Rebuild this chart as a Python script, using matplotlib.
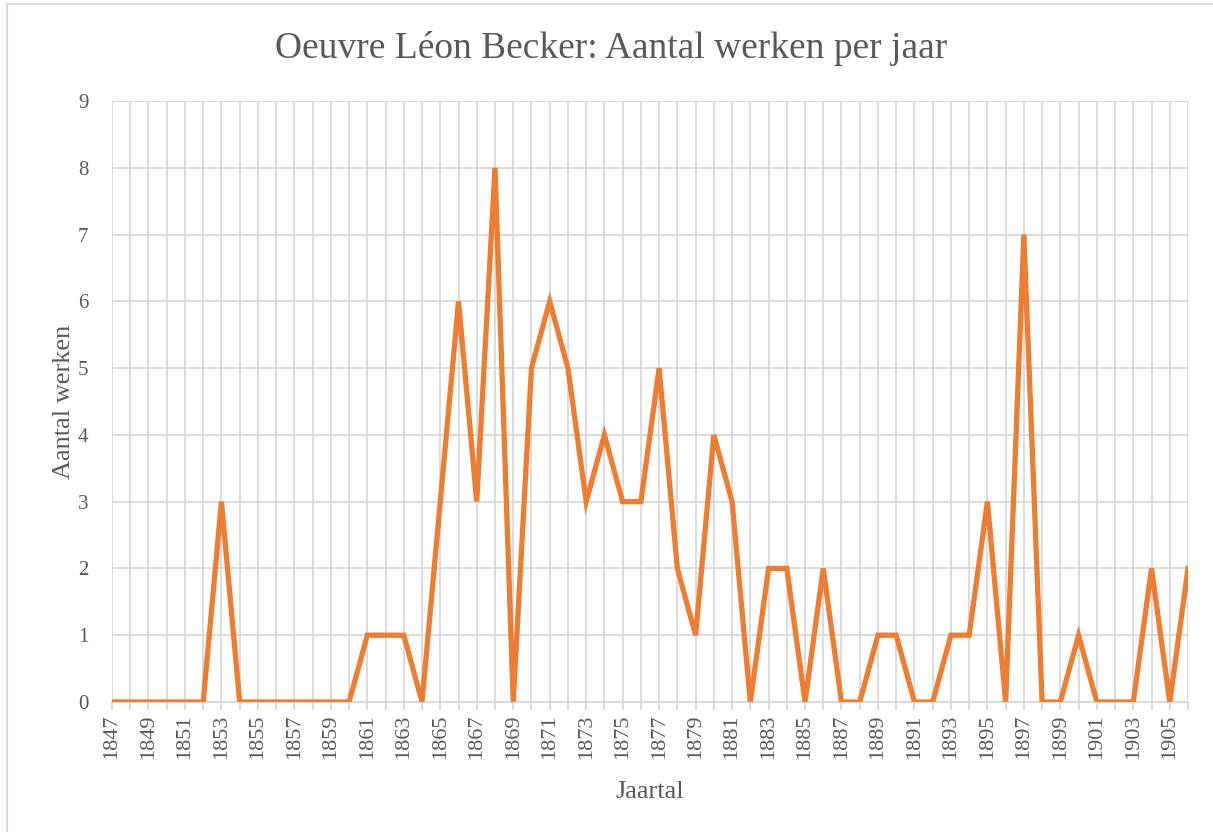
import matplotlib.pyplot as plt
from matplotlib.lines import Line2D

# gegevens: aantal werken per jaar
jaren = list(range(1847, 1907))
aantal = [0, 0, 0, 0, 0, 0, 3, 0, 0, 0,
          0, 0, 0, 0, 1, 1, 1, 0, 3, 6,
          3, 8, 0, 5, 6, 5, 3, 4, 3, 3,
          5, 2, 1, 4, 3, 0, 2, 2, 0, 2,
          0, 0, 1, 1, 0, 0, 1, 1, 3, 0,
          7, 0, 0, 1, 0, 0, 0, 2, 0, 2]

plt.rcParams['font.family'] = ['Liberation Serif', 'DejaVu Serif']
tekst = '#595959'
raster = '#d9d9d9'

fig = plt.figure(figsize=(12.13, 8.32), dpi=100)
ax = fig.add_axes([112 / 1213, 1 - 702 / 832, (1188 - 112) / 1213, (702 - 101) / 832])

ax.plot(jaren, aantal, color='#ED7D31', linewidth=3.8, solid_joinstyle='miter', zorder=3)

ax.set_xlim(1847, 1906)
ax.set_ylim(0, 9)
ax.set_yticks(range(0, 10))
ax.set_xticks(jaren, minor=True)
ax.set_xticks(jaren[::2])
ax.set_xticklabels([str(j) for j in jaren[::2]], rotation=90)

ax.grid(True, which='both', axis='x', color=raster, linewidth=1.3, zorder=0)
ax.grid(True, which='major', axis='y', color=raster, linewidth=1.3, zorder=0)
for s in ['top', 'right', 'left']:
    ax.spines[s].set_visible(False)
ax.spines['bottom'].set_color(raster)
ax.spines['bottom'].set_linewidth(1.3)

ax.tick_params(axis='y', length=0, labelsize=15, labelcolor=tekst, pad=17)
ax.tick_params(axis='x', which='both', length=6, color=raster, width=1.3,
               labelsize=16, labelcolor=tekst, pad=3)

ax.set_xlabel('Jaartal', fontsize=19, color=tekst, labelpad=16)
ax.set_ylabel('Aantal werken', fontsize=19, color=tekst, labelpad=2)
fig.text(611 / 1213, 1 - 48 / 832, 'Oeuvre Léon Becker: Aantal werken per jaar',
         ha='center', va='center', fontsize=27, color=tekst)

# rand van het diagram
fig.add_artist(Line2D([7 / 1213, 7 / 1213], [0, 1 - 4 / 832], transform=fig.transFigure,
                      color=raster, linewidth=1.5))
fig.add_artist(Line2D([7 / 1213, 1], [1 - 4 / 832, 1 - 4 / 832], transform=fig.transFigure,
                      color=raster, linewidth=1.5))

plt.savefig('out.png', dpi=100)
